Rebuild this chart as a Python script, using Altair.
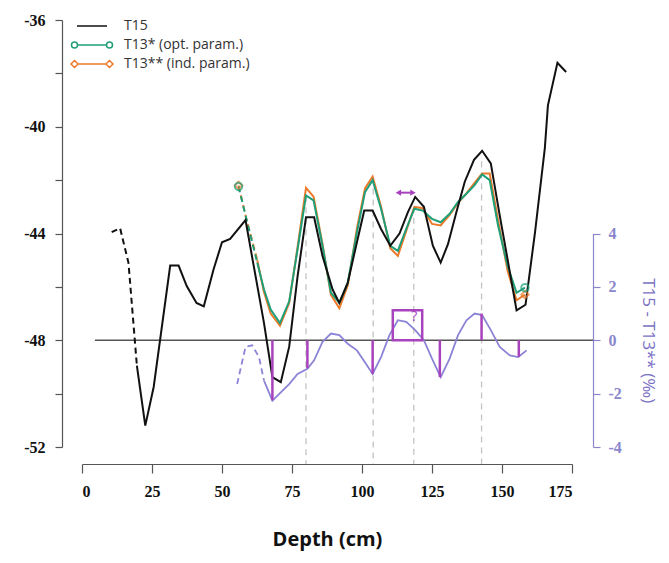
import altair as alt
import pandas as pd

# ---------------- data ----------------
t15_depth = [10.6, 13.6, 16.6, 19.6, 22.6, 25.6, 31.5, 34.5, 37.4, 40.9, 43.5, 47.0, 50.0, 52.9,
             58.4, 65.0, 68.0, 71.0, 74.0, 77.0, 80.0, 82.9, 85.9, 89.5, 91.9, 94.9, 97.9, 100.8,
             103.8, 106.8, 110.1, 113.4, 116.4, 119.0, 122.1, 125.3, 128.1, 130.7, 133.7, 136.7,
             140.0, 142.9, 146.0, 149.2, 152.2, 155.2, 158.4, 161.8, 165.3, 166.4, 169.8, 172.9]
t15_value = [-43.95, -43.8, -45.1, -48.95, -51.2, -49.75, -45.2, -45.2, -45.97, -46.6, -46.73, -45.34,
             -44.33, -44.2, -43.5, -47.36, -49.38, -49.57, -48.24, -45.6, -43.39, -43.39, -44.84,
             -46.1, -46.6, -45.85, -44.46, -43.14, -43.14, -43.83, -44.46, -44.0, -43.2, -42.63,
             -43.0, -44.46, -45.09, -44.4, -43.2, -42.06, -41.24, -40.9, -41.37, -43.33, -45.09,
             -46.88, -46.67, -43.95, -40.8, -39.2, -37.6, -37.95]
t15_dash_end = 19.6

t13_depth = [55.9, 58.7, 62.6, 65.0, 67.4, 70.7, 74.0, 77.0, 80.0, 82.7, 85.9, 88.9, 91.9, 94.9,
             98.2, 101.1, 103.8, 106.8, 110.1, 112.8, 115.8, 118.7, 121.7, 125.0, 128.1, 131.3,
             134.3, 137.3, 140.2, 142.9, 145.6, 148.6, 152.0, 155.2, 158.2]
t13_opt = [-42.24, -43.45, -45.1, -46.1, -46.85, -47.36, -46.54, -44.59, -42.57, -42.76, -44.46,
           -46.22, -46.6, -45.85, -43.95, -42.44, -42.0, -43.07, -44.46, -44.65, -43.83, -43.07,
           -43.14, -43.45, -43.58, -43.26, -42.82, -42.51, -42.19, -41.79, -42.0, -43.7, -45.22,
           -46.22, -46.03]
t13_ind = [-42.2, -43.45, -45.0, -46.2, -47.0, -47.46, -46.6, -44.5, -42.29, -42.62, -44.4,
           -46.3, -46.8, -45.95, -43.8, -42.3, -41.87, -43.0, -44.55, -44.84, -43.9, -43.0,
           -43.05, -43.64, -43.7, -43.3, -42.85, -42.5, -42.1, -41.75, -41.75, -43.5, -45.4,
           -46.5, -46.29]
t13_dash_end = 62.6

diff_depth = [55.4, 58.4, 60.8, 63.2, 65.0, 68.0, 71.0, 74.0, 77.0, 80.5, 82.9, 85.9, 88.9, 91.9,
              94.9, 98.2, 101.4, 103.8, 106.8, 109.8, 112.8, 115.8, 119.0, 122.1, 125.0, 128.1,
              131.3, 134.3, 137.3, 140.2, 142.9, 146.0, 149.2, 152.8, 155.8, 158.8]
diff_value = [-1.64, -0.25, -0.19, -0.63, -1.51, -2.26, -1.95, -1.64, -1.26, -1.07, -0.75, -0.06,
              0.25, 0.19, -0.13, -0.38, -0.88, -1.26, -0.63, 0.19, 0.75, 0.69, 0.38, 0.0, -0.69,
              -1.38, -0.69, 0.19, 0.75, 1.0, 0.94, 0.38, -0.25, -0.57, -0.63, -0.38]
diff_dash_end = 65.0

bar_depth = [68.0, 80.5, 103.8, 127.8, 142.7, 156.0]
bar_value = [-2.25, -1.05, -1.26, -1.38, 1.0, -0.62]

vline_depth = [80.0, 104.0, 118.5, 142.7]
vline_top = [-42.6, -41.9, -43.0, -41.3]

box_depth = [111.0, 121.5]
box_value = [0.0, 1.12]
q_depth, q_value = [118.7], [0.87]
arrow_depth, arrow_value = [113.0, 118.2], -42.47
zero_value = -48
zero_start = 4.6

series_names = ["T15", "T13* (opt. param.)", "T13** (ind. param.)"]
series_colors = ["#111111", "#1f9e78", "#ec7a2a"]

# ---------------- layout constants ----------------
W, H = 490, 427
X_OFF, L_OFF, R_OFF = 17, 20, 21
PURPLE = "#a843bd"
LAV = "#8b84d6"
RAX = "#8a86cc"
SERIF = "Liberation Serif"
SANS = "Open Sans"

# ---------------- frames ----------------
t15 = pd.DataFrame({"depth": t15_depth, "value": t15_value, "series": series_names[0]})
t13o = pd.DataFrame({"depth": t13_depth, "value": t13_opt, "series": series_names[1]})
t13i = pd.DataFrame({"depth": t13_depth, "value": t13_ind, "series": series_names[2]})
allser = pd.concat([t15, t13o, t13i], ignore_index=True)
diff = pd.DataFrame({"depth": diff_depth, "d": diff_value})
bars = pd.DataFrame({"depth": bar_depth, "d": bar_value, "d0": 0.0})
vl = pd.DataFrame({"depth": vline_depth, "value": vline_top})
box = pd.DataFrame({"depth": [box_depth[0]], "depth2": [box_depth[1]],
                    "d0": [box_value[0]], "d": [box_value[1]]})
qdf = pd.DataFrame({"depth": q_depth, "d": q_value})
adf = pd.DataFrame({"depth": [arrow_depth[0]], "depth2": [arrow_depth[1]], "value": [arrow_value]})
ahead_l = pd.DataFrame({"depth": [arrow_depth[0]], "value": [arrow_value]})
ahead_r = pd.DataFrame({"depth": [arrow_depth[1]], "value": [arrow_value]})
zdf = pd.DataFrame({"depth": [zero_start], "value": [zero_value]})
ends_o = t13o.iloc[[0, -1]]
ends_i = t13i.iloc[[0, -1]]

# ---------------- scales & axes ----------------
X = alt.X("depth:Q", title="Depth (cm)",
          scale=alt.Scale(domain=[0, 175], nice=False, zero=False),
          axis=alt.Axis(values=list(range(0, 176, 25)), offset=X_OFF, tickSize=9,
                        labelExpr="'' + datum.value", labelFont=SERIF, labelFontWeight="bold",
                        labelFontSize=16, labelColor="#111", labelPadding=10,
                        titleFont=SANS, titleFontSize=20, titleFontWeight="bold",
                        titleColor="#111", titlePadding=30, grid=False,
                        domainColor="#555", tickColor="#555", domainWidth=1.2, tickWidth=1.2))
YL = alt.Y("value:Q", title=None,
           scale=alt.Scale(domain=[-52, -36], nice=False, zero=False),
           axis=alt.Axis(values=list(range(-52, -35, 2)), offset=L_OFF, tickSize=7,
                         labelExpr="datum.value % 4 == 0 ? '' + datum.value : ''",
                         labelFont=SERIF, labelFontWeight="bold", labelFontSize=16,
                         labelColor="#111", labelPadding=10, grid=False,
                         domainColor="#555", tickColor="#555", domainWidth=1.2, tickWidth=1.2))
YR = alt.Y("d:Q", title="T15 - T13** (‰)",
           scale=alt.Scale(domain=[-4, 4], range=[H, H / 2], nice=False, zero=False),
           axis=alt.Axis(orient="right", values=[-4, -2, 0, 2, 4], offset=R_OFF, tickSize=7,
                         labelExpr="'' + datum.value", labelFont=SERIF, labelFontWeight="bold",
                         labelFontSize=16, labelColor=RAX, labelPadding=8, grid=False,
                         domainColor=RAX, tickColor=RAX, domainWidth=1.2, tickWidth=1.2,
                         titleFont=SANS, titleFontSize=17, titleFontWeight="normal",
                         titleColor="#7b72c4", titleAngle=90, titlePadding=17))
cscale = alt.Scale(domain=series_names, range=series_colors)

shape_paths = [
    "M-3,0L3,0",
    "M-4.1,0A0.6,0.6 0 1,0 -2.9,0A0.6,0.6 0 1,0 -4.1,0M-2.9,0L2.9,0M2.9,0A0.6,0.6 0 1,0 4.1,0A0.6,0.6 0 1,0 2.9,0",
    "M-4.2,0L-3.5,-0.7L-2.8,0L-3.5,0.7ZM-2.8,0L2.8,0M2.8,0L3.5,-0.7L4.2,0L3.5,0.7Z",
]
leg = alt.Legend(title=None, orient="none", legendX=3, legendY=-1, symbolSize=100,
                 symbolStrokeWidth=1.5, labelOffset=25, labelFont=SANS, labelFontSize=14,
                 labelColor="#333", rowPadding=5, padding=0)

# ---------------- left layers ----------------
vlines = alt.Chart(vl).mark_rule(color="#c4c4c4", strokeDash=[6, 5], strokeWidth=1.3).encode(
    x=X, y=YL, y2=alt.value(H + X_OFF))
hline = alt.Chart(zdf).mark_rule(color="#555", strokeWidth=1.3).encode(
    x=X, x2=alt.value(W + R_OFF), y=YL)


def seg(df, cut, dashed, before, color):
    part = df[df.depth <= cut] if before else df[df.depth >= cut]
    kw = {"strokeDash": [6, 4]} if dashed else {}
    return alt.Chart(part).mark_line(strokeWidth=2, color=color, **kw).encode(x=X, y=YL)


lines = [
    seg(t13i, t13_dash_end, True, True, series_colors[2]),
    seg(t13i, t13_dash_end, False, False, series_colors[2]),
    seg(t13o, t13_dash_end, True, True, series_colors[1]),
    seg(t13o, t13_dash_end, False, False, series_colors[1]),
    seg(t15, t15_dash_end, True, True, series_colors[0]),
    seg(t15, t15_dash_end, False, False, series_colors[0]),
]
mk_o = alt.Chart(ends_o).mark_point(shape="circle", filled=False, size=55, strokeWidth=2,
                                     color=series_colors[1]).encode(x=X, y=YL)
mk_i = alt.Chart(ends_i).mark_point(shape="diamond", filled=False, size=55, strokeWidth=2,
                                     color=series_colors[2]).encode(x=X, y=YL)
arrow_shaft = alt.Chart(adf).mark_rule(color=PURPLE, strokeWidth=2).encode(
    x=X, x2=alt.X2("depth2:Q"), y=YL)
head_l = alt.Chart(ahead_l).mark_point(shape="triangle-left", filled=True, size=40,
                                        color=PURPLE, opacity=1).encode(x=X, y=YL)
head_r = alt.Chart(ahead_r).mark_point(shape="triangle-right", filled=True, size=40,
                                        color=PURPLE, opacity=1).encode(x=X, y=YL)
hidden = alt.Chart(allser).mark_point(opacity=0, filled=False).encode(
    x=X, y=YL,
    color=alt.Color("series:N", scale=cscale, legend=leg),
    shape=alt.Shape("series:N", scale=alt.Scale(domain=series_names, range=shape_paths), legend=leg))

left = alt.layer(vlines, hline, *lines, mk_i, mk_o, arrow_shaft, head_l, head_r, hidden)

# ---------------- right layers ----------------
dline_d = alt.Chart(diff[diff.depth <= diff_dash_end]).mark_line(
    color=LAV, strokeWidth=1.8, strokeDash=[6, 4]).encode(x=X, y=YR)
dline_s = alt.Chart(diff[diff.depth >= diff_dash_end]).mark_line(
    color=LAV, strokeWidth=1.8).encode(x=X, y=YR)
brs = alt.Chart(bars).mark_rule(color=PURPLE, strokeWidth=2.5).encode(
    x=X, y=YR, y2=alt.Y2("d0:Q"))
bx = alt.Chart(box).mark_rect(fill=None, stroke=PURPLE, strokeWidth=2.5, fillOpacity=0).encode(
    x=X, x2=alt.X2("depth2:Q"), y=YR, y2=alt.Y2("d0:Q"))
qt = alt.Chart(qdf).mark_text(text="?", fontSize=14, font=SANS, color=PURPLE).encode(x=X, y=YR)

right = alt.layer(dline_d, dline_s, brs, bx, qt)

chart = alt.layer(left, right).resolve_scale(y="independent").properties(
    width=W, height=H,
    autosize=alt.AutoSizeParams(type="none"),
    padding={"left": 74, "top": 12, "right": 89, "bottom": 108},
).configure_view(stroke=None)

chart.save("out.html", embed_options={"renderer": "svg", "actions": False})
